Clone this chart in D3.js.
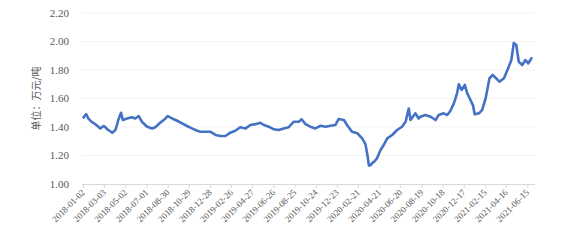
<!DOCTYPE html>
<html>
<head>
<meta charset="utf-8">
<script src="https://cdn.jsdelivr.net/npm/d3@7"></script>
<style>
  body { margin: 0; background: #fff; }
  svg text { font-family: "Liberation Serif", "Times New Roman", serif; fill: #595959; }
</style>
</head>
<body>
<div class="chart"></div>
<script>
  // price readings (万元/吨)
  var dates = [
    "2018-01-02","2018-01-07","2018-01-11","2018-01-17","2018-01-23","2018-01-30","2018-02-06","2018-02-13",
    "2018-02-20","2018-03-01","2018-03-06","2018-03-12","2018-03-20","2018-03-26","2018-04-04","2018-04-09",
    "2018-04-12","2018-04-20","2018-04-25","2018-05-07","2018-05-21","2018-05-30","2018-06-09","2018-06-18",
    "2018-07-03","2018-07-17","2018-07-26","2018-08-09","2018-08-24","2018-08-30","2018-09-12","2018-09-26",
    "2018-10-10","2018-10-24","2018-11-07","2018-11-22","2018-12-01","2018-12-15","2018-12-29","2019-01-13",
    "2019-01-27","2019-02-10","2019-02-24","2019-03-10","2019-03-24","2019-04-08","2019-04-22","2019-05-06",
    "2019-05-20","2019-05-30","2019-06-13","2019-06-27","2019-07-11","2019-07-25","2019-08-08","2019-08-23",
    "2019-09-06","2019-09-14","2019-09-25","2019-10-09","2019-10-23","2019-11-07","2019-11-21","2019-12-05",
    "2019-12-19","2019-12-28","2020-01-12","2020-01-21","2020-02-04","2020-02-19","2020-03-04","2020-03-13",
    "2020-03-19","2020-03-23","2020-03-27","2020-04-01","2020-04-08","2020-04-15","2020-04-25","2020-05-03",
    "2020-05-14","2020-05-28","2020-06-11","2020-06-25","2020-07-05","2020-07-14","2020-07-19","2020-08-02",
    "2020-08-11","2020-08-16","2020-08-30","2020-09-14","2020-09-28","2020-10-07","2020-10-21","2020-10-31",
    "2020-11-09","2020-11-19","2020-11-28","2020-12-03","2020-12-11","2020-12-20","2020-12-27","2021-01-05",
    "2021-01-12","2021-01-17","2021-01-29","2021-02-07","2021-02-17","2021-02-28","2021-03-09","2021-03-19",
    "2021-03-28","2021-04-10","2021-04-22","2021-05-01","2021-05-08","2021-05-15","2021-05-22","2021-06-01",
    "2021-06-10","2021-06-18","2021-06-27","2021-06-30"
  ];
  var prices = [
    1.46,1.48,1.49,1.46,1.444,1.43,1.42,1.405,
    1.39,1.407,1.40,1.384,1.37,1.36,1.379,1.42,
    1.449,1.50,1.449,1.46,1.468,1.46,1.477,1.437,
    1.402,1.39,1.398,1.43,1.46,1.477,1.46,1.444,
    1.426,1.407,1.39,1.374,1.367,1.367,1.367,1.344,
    1.337,1.337,1.36,1.374,1.398,1.39,1.414,1.42,
    1.43,1.414,1.402,1.384,1.379,1.39,1.398,1.437,
    1.437,1.454,1.42,1.402,1.39,1.409,1.402,1.409,
    1.414,1.456,1.449,1.414,1.367,1.356,1.32,1.28,
    1.20,1.13,1.13,1.145,1.16,1.18,1.239,1.27,
    1.32,1.344,1.379,1.402,1.437,1.53,1.449,1.496,
    1.46,1.472,1.484,1.472,1.449,1.484,1.496,1.484,
    1.512,1.566,1.636,1.70,1.66,1.695,1.636,1.589,
    1.554,1.489,1.496,1.519,1.60,1.742,1.765,1.742,
    1.718,1.742,1.812,1.87,1.99,1.975,1.858,1.835,
    1.87,1.847,1.882,1.88
  ];
  var tickLabels = [
    "2018-01-02","2018-03-03","2018-05-02","2018-07-01","2018-08-30","2018-10-29","2018-12-28",
    "2019-02-26","2019-04-27","2019-06-26","2019-08-25","2019-10-24","2019-12-23","2020-02-21",
    "2020-04-21","2020-06-20","2020-08-19","2020-10-18","2020-12-17","2021-02-15","2021-04-16","2021-06-15"
  ];
  var yTicks = [1.00,1.20,1.40,1.60,1.80,2.00,2.20];
  var yTitle = "单位：万元/吨";

  var width = 573, height = 240;
  var parse = d3.timeParse("%Y-%m-%d");
  var data = dates.map(function(d,i){ return {date: parse(d), value: prices[i]}; });

  var x = d3.scaleTime()
    .domain([parse("2018-01-02"), parse("2021-06-30")])
    .range([83, 532.5]);
  var y = d3.scaleLinear().domain([1.0, 2.2]).range([184, 13]);

  var svg = d3.select(".chart").append("svg")
    .attr("width", width)
    .attr("height", height);

  // faint gridlines
  svg.append("g")
    .selectAll("line")
    .data(yTicks.slice(1))
    .enter()
    .append("line")
    .attr("x1", 82).attr("x2", 535)
    .attr("y1", function(d){ return y(d); })
    .attr("y2", function(d){ return y(d); })
    .style("stroke", "#f3f3f3")
    .style("stroke-width", 1);

  // y labels
  svg.append("g")
    .selectAll("text")
    .data(yTicks)
    .enter()
    .append("text")
    .attr("x", 69)
    .attr("y", function(d){ return y(d); })
    .attr("dy", "0.35em")
    .attr("text-anchor", "end")
    .style("font-size", "11px")
    .text(function(d){ return d3.format(".2f")(d); });

  svg.append("text")
    .attr("transform", "translate(40," + y(1.6) + ") rotate(-90)")
    .attr("text-anchor", "middle")
    .style("font-family", "'Noto Sans CJK SC', serif")
    .style("font-size", "10px")
    .text(yTitle);

  // x axis with its ticks
  var xAxis = d3.axisBottom(x)
    .tickValues(tickLabels.map(parse))
    .tickSize(4)
    .tickFormat(d3.timeFormat("%Y-%m-%d"));

  var gx = svg.append("g")
    .attr("transform", "translate(0," + y(1.0) + ")")
    .call(xAxis);
  gx.select(".domain").attr("d", "M82,0.5H535").style("stroke", "#d9d9d9");
  gx.selectAll(".tick line").style("stroke", "#d9d9d9");
  gx.selectAll(".tick text")
    .attr("text-anchor", "end")
    .attr("dy", null)
    .attr("y", 0)
    .attr("transform", "translate(2,9) rotate(-45)")
    .style("font-size", "9px")
    .style("fill", "#595959");

  var line = d3.line()
    .x(function(d){ return x(d.date); })
    .y(function(d){ return y(d.value); });

  svg.append("path")
    .datum(data)
    .attr("d", line)
    .style("fill", "none")
    .style("stroke", "#4472c4")
    .style("stroke-width", 2.6)
    .style("stroke-linejoin", "round");
</script>
</body>
</html>
